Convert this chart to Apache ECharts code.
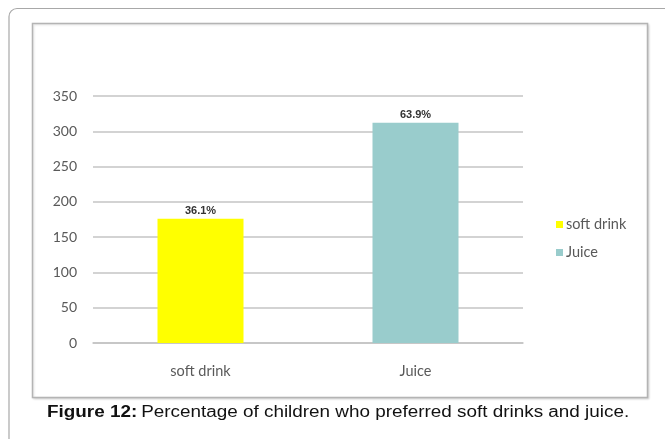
<!DOCTYPE html>
<html>
<head>
<meta charset="utf-8">
<style>
  html, body { margin: 0; padding: 0; background: #fff; }
  #chart { width: 665px; height: 439px; }
</style>
<script src="https://cdn.jsdelivr.net/npm/echarts@6/dist/echarts.min.js"></script>
</head>
<body>
<div id="chart"></div>
<script>
// Number of children preferring each drink
const categories = ['soft drink', 'Juice'];
const seriesNames = ['soft drink', 'Juice'];
const counts = [176, 312];
const yTicks = [0, 50, 100, 150, 200, 250, 300, 350];
const barColors = ['#ffff00', '#99cccc'];

const total = counts.reduce((a, b) => a + b, 0);
const pct = v => (v / total * 100).toFixed(1) + '%';

const labelFont = 'Lato, "Open Sans", sans-serif';
const captionFont = '"Liberation Sans", Arial, sans-serif';

const chart = echarts.init(document.getElementById('chart'), null, { renderer: 'canvas' });

const series = seriesNames.map((name, i) => ({
  name: name,
  type: 'bar',
  data: categories.map((c, j) => (j === i ? counts[i] : '-')),
  barWidth: 86,
  barGap: '-100%',
  itemStyle: { color: barColors[i] },
  label: {
    show: true,
    position: 'top',
    distance: 2,
    formatter: p => pct(p.value),
    fontFamily: '"Liberation Sans Narrow", "Liberation Sans", Arial, sans-serif',
    fontWeight: 'bold',
    fontSize: 11,
    color: '#333'
  }
}));

chart.setOption({
  animation: false,
  backgroundColor: '#fff',
  legend: {
    orient: 'vertical',
    left: 551,
    top: 212,
    itemWidth: 7,
    itemHeight: 7,
    itemGap: 13,
    icon: 'rect',
    textStyle: { fontFamily: labelFont, fontSize: 14.5, color: '#595959', padding: [0, 0, 0, -2] },
    data: seriesNames
  },
  grid: { left: 93, right: 142, top: 96, bottom: 96, containLabel: false },
  xAxis: {
    type: 'category',
    data: categories,
    axisLine: { lineStyle: { color: '#c4c4c4', width: 1.5 } },
    axisTick: { show: false },
    axisLabel: { fontFamily: labelFont, fontSize: 14.5, color: '#595959', margin: 21 }
  },
  yAxis: {
    type: 'value',
    min: yTicks[0],
    max: yTicks[yTicks.length - 1],
    interval: yTicks[1] - yTicks[0],
    axisLine: { show: false },
    axisTick: { show: false },
    splitLine: { lineStyle: { color: '#c4c4c4', width: 1.5 } },
    axisLabel: { fontFamily: labelFont, fontSize: 14, color: '#595959', margin: 16 }
  },
  graphic: [
    // outer rounded panel border
    { type: 'rect', z: -10, shape: { x: 9, y: 8.5, width: 700, height: 480, r: 8 },
      style: { fill: 'none', stroke: '#a8a8a8', lineWidth: 1.2 }, silent: true },
    // inner chart frame
    { type: 'rect', z: -9, shape: { x: 32.5, y: 23.5, width: 615, height: 374 },
      style: { fill: '#fff', stroke: '#b4b4b4', lineWidth: 1.5,
               shadowColor: 'rgba(0,0,0,0.12)', shadowBlur: 2, shadowOffsetX: 1, shadowOffsetY: 1 }, silent: true },
    // figure caption, set in a slightly widened face
    { type: 'text', x: 47, y: 413, scaleX: 1.18, silent: true,
      style: {
        text: '{b|Figure 12:} {n|Percentage of children who preferred soft drinks and juice.}',
        verticalAlign: 'middle',
        rich: {
          b: { fontFamily: captionFont, fontWeight: 'bold', fontSize: 16, fill: '#111' },
          n: { fontFamily: captionFont, fontWeight: 'normal', fontSize: 16, fill: '#111' }
        }
      } }
  ],
  series: series
});
</script>
</body>
</html>
